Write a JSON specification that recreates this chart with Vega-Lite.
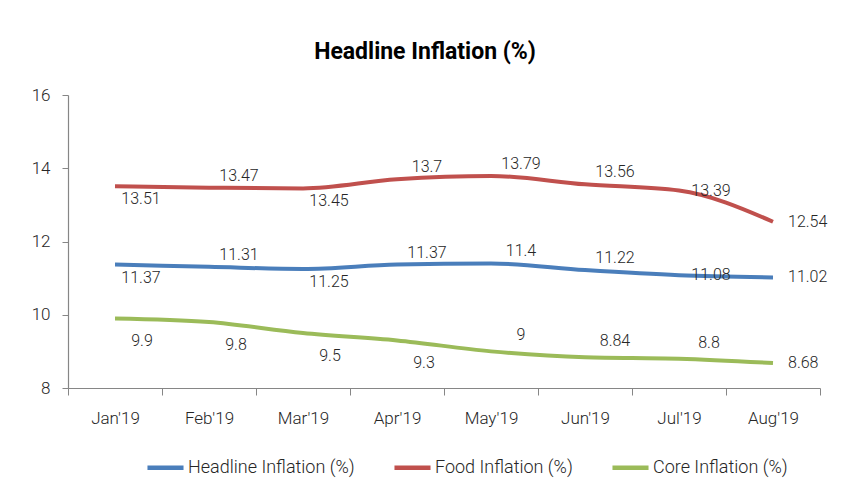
{
  "$schema": "https://vega.github.io/schema/vega-lite/v6.json",
  "width": 752,
  "height": 293,
  "autosize": {"type": "none"},
  "padding": {"left": 68, "top": 95, "right": 34, "bottom": 94},
  "background": "white",
  "config": {
    "font": "Roboto",
    "view": {"stroke": null},
    "text": {"fontWeight": 300}
  },
  "title": {
    "text": "Headline Inflation (%)",
    "fontSize": 23,
    "fontWeight": "bold",
    "color": "#000000",
    "font": "Roboto",
    "anchor": "middle",
    "offset": 22,
    "dx": -19
  },
  "data": {
    "values": [
      {"month": "Jan'19", "series": "Headline Inflation (%)", "value": 11.37},
      {"month": "Feb'19", "series": "Headline Inflation (%)", "value": 11.31},
      {"month": "Mar'19", "series": "Headline Inflation (%)", "value": 11.25},
      {"month": "Apr'19", "series": "Headline Inflation (%)", "value": 11.37},
      {"month": "May'19", "series": "Headline Inflation (%)", "value": 11.4},
      {"month": "Jun'19", "series": "Headline Inflation (%)", "value": 11.22},
      {"month": "Jul'19", "series": "Headline Inflation (%)", "value": 11.08},
      {"month": "Aug'19", "series": "Headline Inflation (%)", "value": 11.02},
      {"month": "Jan'19", "series": "Food Inflation (%)", "value": 13.51},
      {"month": "Feb'19", "series": "Food Inflation (%)", "value": 13.47},
      {"month": "Mar'19", "series": "Food Inflation (%)", "value": 13.45},
      {"month": "Apr'19", "series": "Food Inflation (%)", "value": 13.7},
      {"month": "May'19", "series": "Food Inflation (%)", "value": 13.79},
      {"month": "Jun'19", "series": "Food Inflation (%)", "value": 13.56},
      {"month": "Jul'19", "series": "Food Inflation (%)", "value": 13.39},
      {"month": "Aug'19", "series": "Food Inflation (%)", "value": 12.54},
      {"month": "Jan'19", "series": "Core Inflation (%)", "value": 9.9},
      {"month": "Feb'19", "series": "Core Inflation (%)", "value": 9.8},
      {"month": "Mar'19", "series": "Core Inflation (%)", "value": 9.5},
      {"month": "Apr'19", "series": "Core Inflation (%)", "value": 9.3},
      {"month": "May'19", "series": "Core Inflation (%)", "value": 9},
      {"month": "Jun'19", "series": "Core Inflation (%)", "value": 8.84},
      {"month": "Jul'19", "series": "Core Inflation (%)", "value": 8.8},
      {"month": "Aug'19", "series": "Core Inflation (%)", "value": 8.68}
    ]
  },
  "encoding": {
    "x": {
      "field": "month",
      "type": "ordinal",
      "sort": null,
      "scale": {"paddingInner": 0, "paddingOuter": 0},
      "axis": {
        "title": null,
        "labelAngle": 0,
        "labelFontSize": 17,
        "labelFontWeight": 300,
        "labelColor": "#262626",
        "labelPadding": 15,
        "tickBand": "extent",
        "tickSize": 7,
        "tickColor": "#868686",
        "domainColor": "#868686",
        "domainWidth": 1.2,
        "grid": false
      }
    },
    "y": {
      "field": "value",
      "type": "quantitative",
      "scale": {"domain": [8, 16], "nice": false, "zero": false},
      "axis": {
        "title": null,
        "values": [8, 10, 12, 14, 16],
        "grid": false,
        "labelFontSize": 17,
        "labelFontWeight": 300,
        "labelColor": "#262626",
        "labelPadding": 12,
        "tickSize": 6,
        "tickColor": "#868686",
        "domainColor": "#868686",
        "domainWidth": 1.2
      }
    }
  },
  "layer": [
    {
      "mark": {"type": "line", "strokeWidth": 4, "interpolate": "monotone"},
      "encoding": {
        "color": {
          "field": "series",
          "type": "nominal",
          "scale": {
            "domain": ["Headline Inflation (%)", "Food Inflation (%)", "Core Inflation (%)"],
            "range": ["#4a7ebb", "#c0504d", "#9bbb59"]
          },
          "legend": {
            "title": null,
            "orient": "none",
            "direction": "horizontal",
            "legendX": 77,
            "legendY": 352,
            "symbolType": "stroke",
            "symbolSize": 1300,
            "symbolStrokeWidth": 4.5,
            "labelFontSize": 18,
            "labelFontWeight": 300,
            "labelLimit": 0,
            "labelColor": "#262626",
            "labelOffset": 2,
            "columnPadding": 30
          }
        }
      }
    },
    {
      "transform": [{"filter": "(datum.series != 'Core Inflation (%)' && (datum.month == \"Feb'19\" || datum.month == \"Apr'19\" || datum.month == \"May'19\" || datum.month == \"Jun'19\"))"}],
      "mark": {"type": "text", "fontSize": 16, "color": "#262626", "dx": 30, "dy": -12},
      "encoding": {"text": {"field": "value", "type": "quantitative"}}
    },
    {
      "transform": [{"filter": "(datum.series == 'Core Inflation (%)' && (datum.month == \"May'19\" || datum.month == \"Jun'19\" || datum.month == \"Jul'19\"))"}],
      "mark": {"type": "text", "fontSize": 16, "color": "#262626", "dx": 30, "dy": -16},
      "encoding": {"text": {"field": "value", "type": "quantitative"}}
    },
    {
      "transform": [{"filter": "(datum.series != 'Core Inflation (%)' && datum.month == \"Jul'19\")"}],
      "mark": {"type": "text", "fontSize": 16, "color": "#262626", "dx": 32, "dy": 0},
      "encoding": {"text": {"field": "value", "type": "quantitative"}}
    },
    {
      "transform": [{"filter": "(datum.series != 'Core Inflation (%)' && (datum.month == \"Jan'19\" || datum.month == \"Mar'19\"))"}],
      "mark": {"type": "text", "fontSize": 16, "color": "#262626", "dx": 26, "dy": 13},
      "encoding": {"text": {"field": "value", "type": "quantitative"}}
    },
    {
      "transform": [{"filter": "(datum.series == 'Core Inflation (%)' && (datum.month == \"Jan'19\" || datum.month == \"Feb'19\" || datum.month == \"Mar'19\" || datum.month == \"Apr'19\"))"}],
      "mark": {"type": "text", "fontSize": 16, "color": "#262626", "dx": 27, "dy": 23},
      "encoding": {"text": {"field": "value", "type": "quantitative"}}
    },
    {
      "transform": [{"filter": "datum.month == \"Aug'19\""}],
      "mark": {"type": "text", "fontSize": 16, "color": "#262626", "align": "left", "dx": 15, "dy": 0},
      "encoding": {"text": {"field": "value", "type": "quantitative"}}
    }
  ]
}
